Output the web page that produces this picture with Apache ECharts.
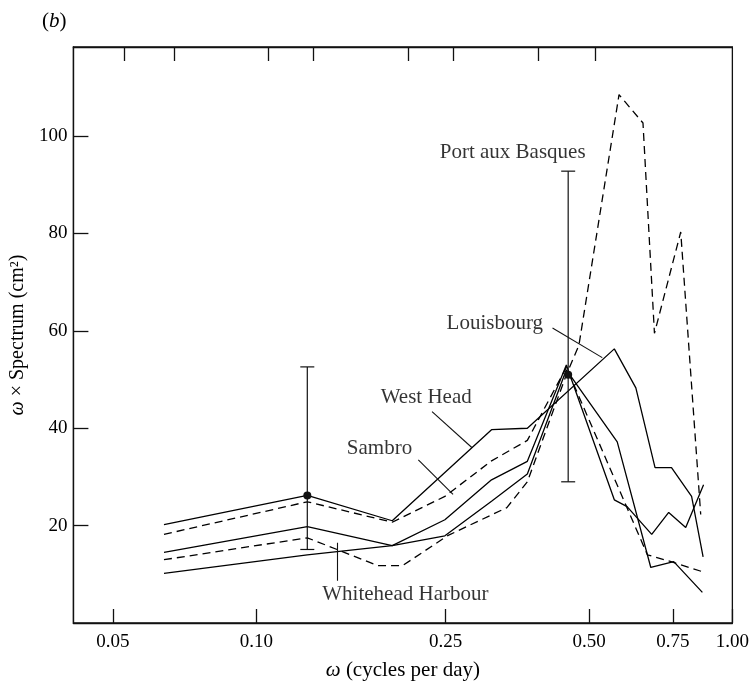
<!DOCTYPE html>
<html><head><meta charset="utf-8">
<script src="https://cdn.jsdelivr.net/npm/echarts@6/dist/echarts.min.js"></script>
<style>html,body{margin:0;padding:0;background:#fff}#c{width:752px;height:686px}</style>
</head><body><div id="c"></div>
<script>
// ---------- axis ticks ----------
const xTickValues = [0.05, 0.10, 0.25, 0.50, 0.75, 1.00];
const xTickLabels = ['0.05', '0.10', '0.25', '0.50', '0.75', '1.00'];
const topTickValues = [0.0528, 0.0671, 0.1059, 0.1315, 0.2086, 0.259, 0.3916, 0.515];
const yTickValues = [20, 40, 60, 80, 100];

// ---------- series (frequency in cycles/day, value = omega x spectrum, cm^2) ----------
const westHeadFreq = [0.064, 0.128, 0.193, 0.312, 0.371, 0.565, 0.627, 0.688, 0.745, 0.821, 0.868];
const westHeadVals = [20.2, 26.2, 21.0, 39.7, 40.0, 56.3, 48.3, 31.9, 31.9, 26.0, 13.6];

const sambroFreq = [0.064, 0.128, 0.193, 0.249, 0.312, 0.371, 0.448, 0.663, 0.749, 0.874];
const sambroVals = [18.2, 24.9, 20.7, 26.0, 33.3, 37.5, 52.5, 14.0, 12.5, 10.4];

const louisbourgFreq = [0.064, 0.128, 0.193, 0.249, 0.312, 0.371, 0.448, 0.565, 0.601, 0.677, 0.735, 0.798, 0.870];
const louisbourgVals = [14.5, 19.8, 15.9, 21.2, 29.4, 33.2, 53.0, 25.3, 23.9, 18.2, 22.7, 19.6, 28.4];

const whiteheadFreq = [0.064, 0.128, 0.193, 0.249, 0.312, 0.371, 0.448, 0.573, 0.674, 0.753, 0.865];
const whiteheadVals = [10.2, 14.0, 15.9, 17.9, 25.0, 30.6, 52.0, 37.2, 11.4, 12.6, 6.3];

const basquesFreq = [0.064, 0.128, 0.180, 0.203, 0.253, 0.336, 0.371, 0.448, 0.476, 0.578, 0.649, 0.686, 0.779, 0.858];
const basquesVals = [13.0, 17.5, 11.8, 11.8, 18.0, 23.7, 29.0, 51.0, 57.0, 108.5, 102.7, 59.5, 80.3, 22.3];

// ---------- error bars ----------
const errFreq = [0.128, 0.452];
const errLow = [15.1, 29.0];
const errHigh = [52.6, 92.8];
const errMid = [26.2, 51.0];

// ---------- station labels and leader lines ----------
const labelNames = ['Port aux Basques', 'Louisbourg', 'West Head', 'Sambro', 'Whitehead Harbour'];
const labelFreq = [0.3456, 0.317, 0.2275, 0.1815, 0.2057];
const labelVals = [96.7, 61.6, 46.3, 35.8, 5.85];
const leaderFrom = [[0.419, 60.6], [0.234, 43.4], [0.219, 33.5], [0.1476, 16.5]];
const leaderTo = [[0.533, 54.5], [0.284, 36.0], [0.259, 26.4], [0.1476, 8.7]];

const FONT = '"Liberation Serif", "DejaVu Serif", serif';
const INK = '#000';
const pairs = (f, v) => f.map((x, i) => [x, v[i]]);
const lineStyle = (dashed) => ({ color: INK, width: 1.3, type: dashed ? [8, 5] : 'solid' });

const chart = echarts.init(document.getElementById('c'), null, { renderer: 'canvas' });

function lineSeries(name, f, v, dashed) {
  return {
    name, type: 'line', data: pairs(f, v), showSymbol: false, symbol: 'none',
    lineStyle: lineStyle(dashed), animation: false, z: 3
  };
}

const option = {
  backgroundColor: '#fff',
  animation: false,
  title: {
    text: '({i|b})', left: 37, top: 6,
    textStyle: { fontFamily: FONT, fontSize: 21, fontWeight: 'normal', color: INK,
      rich: { i: { fontFamily: FONT, fontSize: 21, fontStyle: 'italic', color: INK } } }
  },
  grid: { left: 71, right: 18, top: 47, bottom: 62, show: true, borderColor: '#111', borderWidth: 1.3 },
  xAxis: [{
    type: 'log', min: 0.0413, max: 1.0, position: 'bottom',
    name: '{i|ω} (cycles per day)', nameLocation: 'middle', nameGap: 37,
    nameTextStyle: { fontFamily: FONT, fontSize: 21, color: INK,
      rich: { i: { fontFamily: FONT, fontSize: 21, fontStyle: 'italic', color: INK } } },
    axisLine: { show: true, lineStyle: { color: '#111', width: 1.3 } },
    axisTick: { show: true, inside: true, length: 14, customValues: xTickValues, lineStyle: { color: '#111', width: 1.3 } },
    axisLabel: { show: true, customValues: xTickValues, margin: 10, fontFamily: FONT, fontSize: 19, color: INK,
      formatter: (val) => {
        let best = 0;
        xTickValues.forEach((t, i) => { if (Math.abs(t - val) < Math.abs(xTickValues[best] - val)) best = i; });
        return xTickLabels[best];
      } },
    splitLine: { show: false }, minorTick: { show: false }
  }, {
    type: 'log', min: 0.0413, max: 1.0, position: 'top',
    axisLine: { show: true, lineStyle: { color: '#111', width: 1.3 } },
    axisTick: { show: true, inside: true, length: 14, customValues: topTickValues, lineStyle: { color: '#111', width: 1.3 } },
    axisLabel: { show: false }, splitLine: { show: false }
  }],
  yAxis: [{
    type: 'value', min: 0, max: 118.3,
    name: '{i|ω} × Spectrum (cm²)', nameLocation: 'middle', nameGap: 39, nameRotate: 90,
    nameTextStyle: { fontFamily: FONT, fontSize: 20, color: INK,
      rich: { i: { fontFamily: FONT, fontSize: 20, fontStyle: 'italic', color: INK } } },
    axisLine: { show: true, lineStyle: { color: '#111', width: 1.3 } },
    axisTick: { show: true, inside: true, length: 15, customValues: yTickValues, lineStyle: { color: '#111', width: 1.3 } },
    axisLabel: { show: true, customValues: yTickValues, margin: 6, fontFamily: FONT, fontSize: 19, color: INK },
    splitLine: { show: false }
  }],
  series: [
    lineSeries('West Head', westHeadFreq, westHeadVals, false),
    lineSeries('Sambro', sambroFreq, sambroVals, true),
    lineSeries('Louisbourg', louisbourgFreq, louisbourgVals, false),
    lineSeries('Whitehead Harbour', whiteheadFreq, whiteheadVals, false),
    lineSeries('Port aux Basques', basquesFreq, basquesVals, true),
    {
      name: 'error bars', type: 'custom', z: 4,
      data: errFreq.map((f, i) => [f, errLow[i], errHigh[i], errMid[i]]),
      encode: { x: 0, y: [1, 2, 3] },
      renderItem: (params, api) => {
        const lo = api.coord([api.value(0), api.value(1)]);
        const hi = api.coord([api.value(0), api.value(2)]);
        const mid = api.coord([api.value(0), api.value(3)]);
        const cap = 7;
        const st = { stroke: '#111', lineWidth: 1.2 };
        return { type: 'group', children: [
          { type: 'line', shape: { x1: lo[0], y1: lo[1], x2: hi[0], y2: hi[1] }, style: st },
          { type: 'line', shape: { x1: lo[0] - cap, y1: lo[1], x2: lo[0] + cap, y2: lo[1] }, style: st },
          { type: 'line', shape: { x1: hi[0] - cap, y1: hi[1], x2: hi[0] + cap, y2: hi[1] }, style: st },
          { type: 'circle', shape: { cx: mid[0], cy: mid[1], r: 4 }, style: { fill: '#111' } }
        ] };
      }
    },
    {
      name: 'leaders', type: 'lines', coordinateSystem: 'cartesian2d', z: 4,
      data: leaderFrom.map((p, i) => ({ coords: [p, leaderTo[i]] })),
      lineStyle: { color: '#111', width: 1.1, opacity: 1 }, symbol: 'none', silent: true
    },
    {
      name: 'station labels', type: 'scatter', symbolSize: 0, z: 5,
      data: labelNames.map((n, i) => [labelFreq[i], labelVals[i], n]),
      label: { show: true, position: 'inside', formatter: (p) => p.value[2],
        fontFamily: FONT, fontSize: 21, color: INK }
    }
  ]
};
chart.setOption(option);
</script>
</body></html>
